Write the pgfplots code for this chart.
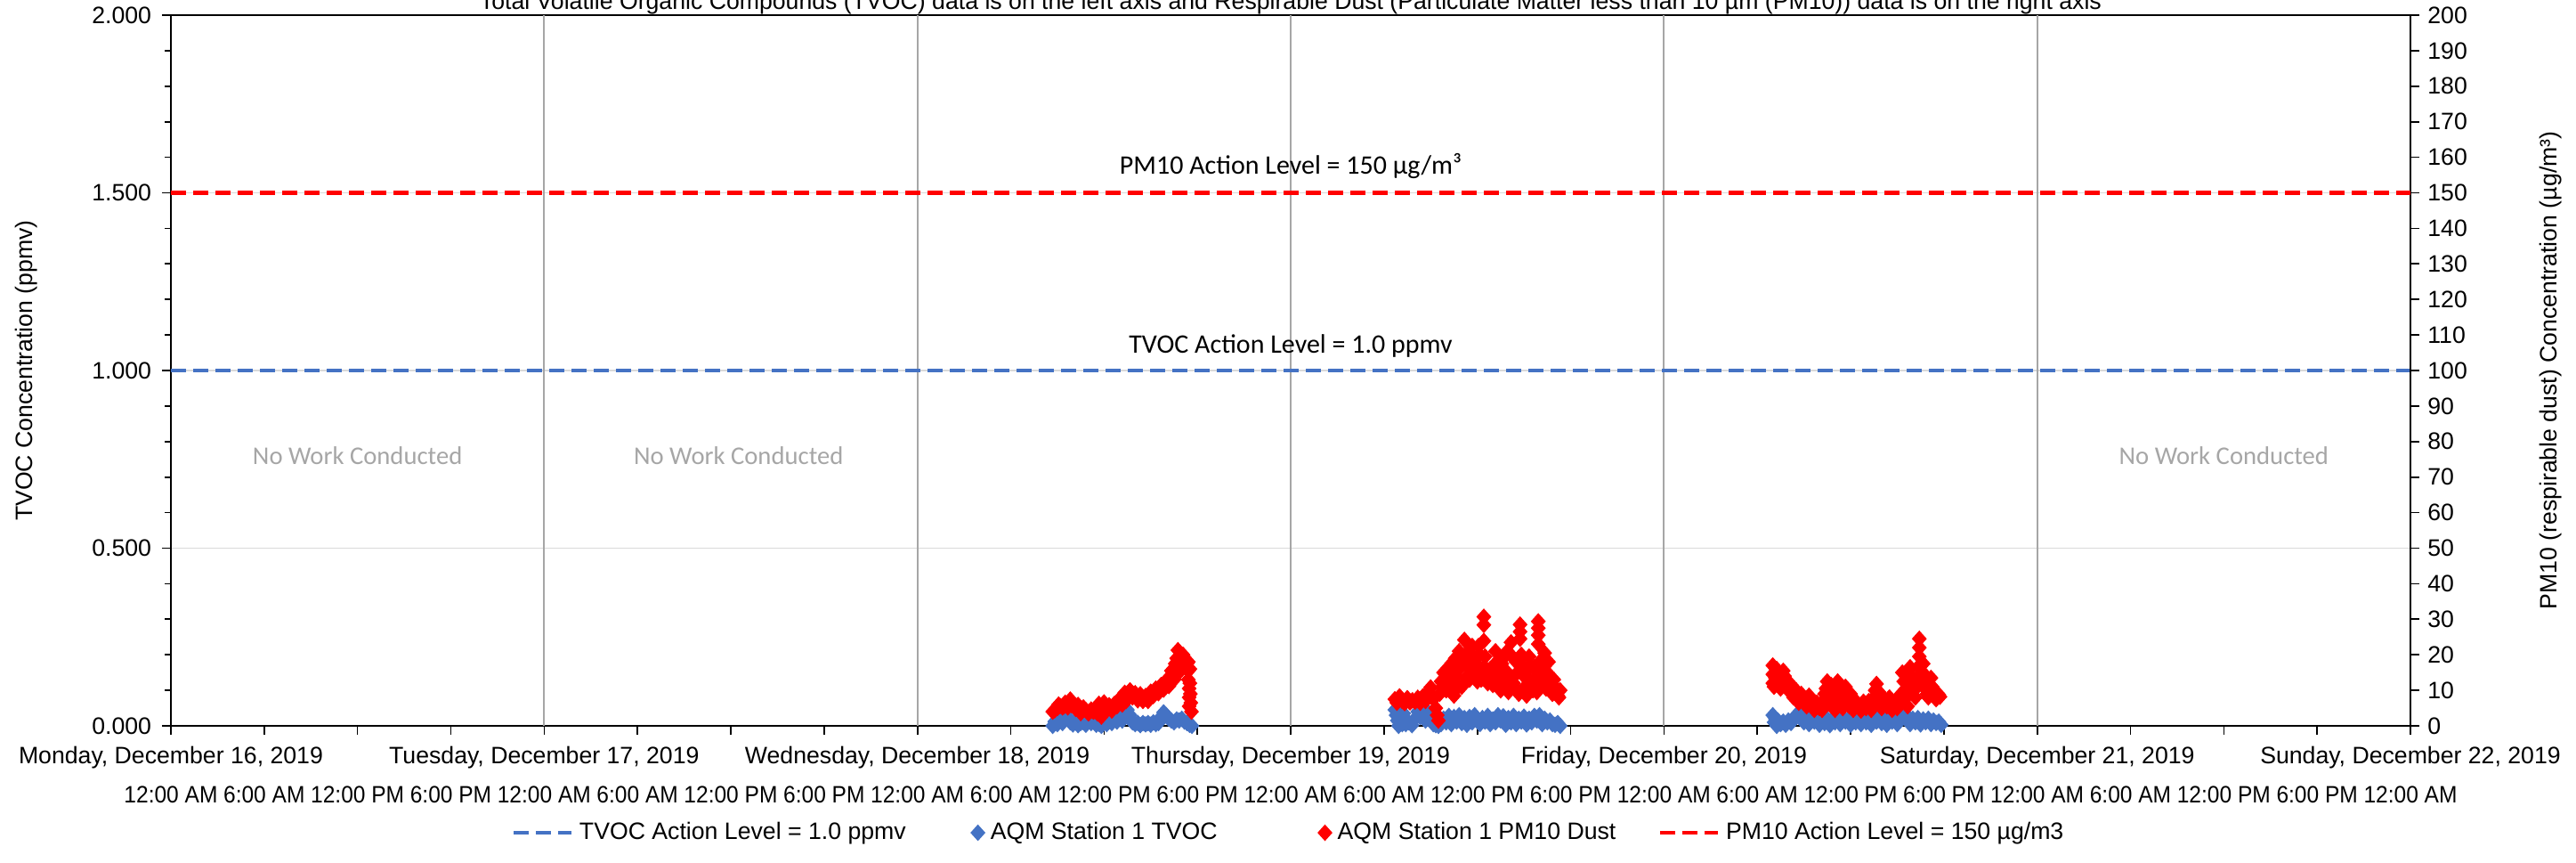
\documentclass[border=0pt]{standalone}
\usepackage{fontspec}
\setmainfont{Liberation Sans}
\newfontfamily\carlito{Carlito}
\newfontfamily\narrowsans[FakeStretch=0.92]{Liberation Sans}
\usepackage{pgfplots}
\usepackage{pgfplotstable}
\pgfplotsset{compat=1.18}
\definecolor{tvoc}{HTML}{4472C4}
\definecolor{pmred}{HTML}{FF0000}
\definecolor{vgrid}{HTML}{A6A6A6}
\definecolor{hgrid}{HTML}{D9D9D9}
\definecolor{nowork}{HTML}{A6A6A6}

\pgfplotstableread{
h v
56.70 0.000
56.83 0.012
57.00 0.005
57.17 0.018
57.33 0.008
57.50 0.022
57.67 0.025
57.83 0.010
58.00 0.004
58.17 0.012
58.33 0.002
58.50 0.008
58.67 0.010
58.83 0.003
59.00 0.015
59.17 0.008
59.33 0.012
59.50 0.003
59.67 0.006
59.83 0.000
60.00 0.010
60.17 0.005
60.33 0.018
60.50 0.008
60.67 0.022
60.83 0.012
61.00 0.025
61.17 0.015
61.33 0.035
61.50 0.045
61.67 0.030
61.83 0.010
62.00 0.005
62.17 0.008
62.33 0.002
62.50 0.008
62.67 0.004
62.83 0.008
63.00 0.003
63.17 0.010
63.33 0.005
63.50 0.008
63.67 0.025
63.83 0.038
64.00 0.030
64.17 0.020
64.33 0.015
64.50 0.010
64.67 0.018
64.83 0.015
65.00 0.020
65.17 0.012
65.33 0.008
65.50 0.003
65.65 0.000
78.70 0.045
78.78 0.030
78.86 0.015
78.94 0.000
79.02 0.040
79.10 0.020
79.18 0.005
79.26 0.035
79.40 0.005
79.60 0.010
79.80 0.002
80.00 0.020
80.17 0.040
80.33 0.025
80.50 0.035
80.67 0.015
80.83 0.040
81.00 0.020
81.17 0.005
81.33 0.002
81.50 0.000
81.67 0.005
81.83 0.020
82.00 0.010
82.17 0.028
82.33 0.005
82.50 0.025
82.67 0.012
82.83 0.030
83.00 0.008
83.17 0.022
83.33 0.003
83.50 0.025
83.67 0.010
83.83 0.030
84.00 0.015
84.17 0.005
84.33 0.022
84.50 0.012
84.67 0.028
84.83 0.005
85.00 0.018
85.17 0.010
85.33 0.030
85.50 0.015
85.67 0.027
85.83 0.003
86.00 0.022
86.17 0.010
86.33 0.028
86.50 0.005
86.67 0.020
86.83 0.012
87.00 0.026
87.17 0.004
87.33 0.020
87.50 0.010
87.67 0.028
87.83 0.015
88.00 0.030
88.17 0.005
88.33 0.020
88.50 0.010
88.67 0.015
88.83 0.005
89.00 0.003
89.17 0.008
89.33 0.000
103.00 0.030
103.08 0.010
103.17 0.020
103.25 0.000
103.33 0.015
103.50 0.005
103.67 0.012
103.83 0.003
104.00 0.015
104.17 0.008
104.33 0.020
104.50 0.030
104.67 0.035
104.83 0.020
105.00 0.010
105.17 0.025
105.33 0.005
105.50 0.020
105.67 0.012
105.83 0.018
106.00 0.003
106.17 0.015
106.33 0.008
106.50 0.020
106.67 0.002
106.83 0.018
107.00 0.010
107.17 0.022
107.33 0.005
107.50 0.020
107.67 0.012
107.83 0.018
108.00 0.003
108.17 0.020
108.33 0.010
108.50 0.022
108.67 0.005
108.83 0.018
109.00 0.010
109.17 0.020
109.33 0.003
109.50 0.022
109.67 0.012
109.83 0.025
110.00 0.008
110.17 0.018
110.33 0.003
110.50 0.022
110.67 0.012
110.83 0.025
111.00 0.005
111.17 0.020
111.33 0.028
111.50 0.035
111.67 0.015
111.83 0.005
112.00 0.020
112.17 0.010
112.33 0.022
112.50 0.004
112.67 0.018
112.83 0.010
113.00 0.020
113.17 0.005
113.33 0.015
113.50 0.008
113.67 0.012
113.83 0.003
}\tvocdata

\pgfplotstableread{
h v
56.70 4.0
56.83 4.4
57.00 5.0
57.08 6.0
57.17 5.6
57.33 5.2
57.42 5.5
57.50 6.5
57.67 5.2
57.75 6.2
57.83 7.4
57.92 5.8
58.00 6.4
58.17 4.8
58.25 5.2
58.33 5.9
58.50 3.6
58.67 5.2
58.83 4.4
58.92 4.0
59.00 3.5
59.17 4.6
59.25 4.2
59.33 4.0
59.50 4.5
59.58 3.5
59.67 6.2
59.83 2.6
59.92 5.0
60.00 6.6
60.17 4.5
60.25 5.0
60.33 5.8
60.50 4.3
60.58 5.2
60.67 6.2
60.83 5.5
60.92 6.5
61.00 7.6
61.17 6.0
61.25 8.5
61.33 9.3
61.42 7.0
61.50 7.6
61.58 9.0
61.67 10.0
61.75 8.8
61.83 8.0
61.92 8.5
62.00 9.2
62.08 8.0
62.17 7.2
62.25 8.2
62.33 8.9
62.42 7.8
62.50 7.0
62.58 7.6
62.67 8.4
62.75 7.8
62.83 7.0
62.92 8.2
63.00 9.6
63.08 9.0
63.17 8.4
63.25 9.5
63.33 10.5
63.42 9.8
63.50 9.2
63.58 10.5
63.67 11.5
63.75 10.8
63.83 10.2
63.92 11.5
64.00 12.8
64.08 12.0
64.17 11.2
64.25 13.5
64.33 15.5
64.42 14.5
64.50 13.0
64.58 17.5
64.67 19.0
64.75 21.3
64.83 19.0
64.92 15.5
65.00 17.0
65.08 20.0
65.17 18.8
65.33 17.5
65.42 18.0
65.42 15.5
65.42 13.0
65.47 10.5
65.47 8.0
65.47 5.5
65.52 16.0
65.52 12.0
65.55 9.0
65.58 6.5
65.62 4.0
78.70 7.5
78.83 6.5
79.00 8.3
79.17 7.0
79.33 6.4
79.50 7.8
79.67 6.6
79.83 7.2
80.00 6.8
80.17 7.9
80.33 6.5
80.50 8.3
80.67 7.0
80.83 9.5
81.00 10.8
81.17 7.5
81.33 5.0
81.42 3.0
81.50 1.5
81.58 9.0
81.67 12.5
81.75 11.0
81.83 15.0
81.92 13.0
82.00 10.0
82.08 16.0
82.17 13.5
82.25 11.5
82.33 17.5
82.42 14.5
82.50 8.5
82.58 19.0
82.67 14.0
82.75 11.0
82.83 21.0
82.92 16.5
83.00 11.0
83.08 19.5
83.17 24.2
83.25 13.5
83.33 17.0
83.42 21.0
83.50 13.0
83.58 16.0
83.67 22.5
83.75 19.5
83.83 18.0
83.92 14.5
84.00 12.5
84.08 22.5
84.17 20.0
84.25 13.0
84.33 16.0
84.42 30.7
84.42 28.4
84.42 23.9
84.50 19.5
84.58 16.0
84.67 12.0
84.75 14.0
84.83 16.0
84.92 13.0
85.00 11.5
85.08 16.0
85.17 21.0
85.25 18.0
85.33 14.0
85.42 12.5
85.50 10.0
85.58 17.5
85.67 19.0
85.75 12.0
85.83 15.5
85.92 21.0
86.00 9.5
86.08 14.0
86.17 23.5
86.25 19.5
86.33 12.0
86.42 10.5
86.50 18.0
86.58 15.0
86.67 9.0
86.75 28.5
86.75 26.5
86.75 24.5
86.83 20.0
86.92 17.0
87.00 14.0
87.08 11.0
87.17 8.5
87.25 15.5
87.33 19.5
87.42 17.0
87.50 12.0
87.58 10.0
87.67 16.5
87.75 13.5
87.83 9.5
87.92 29.4
87.92 27.5
87.92 25.5
87.92 23.0
88.00 18.0
88.08 14.5
88.17 11.5
88.25 16.5
88.33 20.5
88.42 10.5
88.50 15.0
88.58 18.0
88.67 13.0
88.75 11.0
88.83 9.0
88.92 13.0
89.00 11.0
89.08 9.5
89.17 8.5
89.25 8.0
89.33 10.0
103.00 17.0
103.00 14.5
103.00 12.0
103.08 11.0
103.17 13.5
103.25 16.0
103.33 12.0
103.42 13.0
103.50 10.5
103.58 11.5
103.67 15.5
103.75 14.0
103.83 13.0
103.92 11.0
104.00 10.0
104.08 12.0
104.17 11.5
104.25 9.0
104.33 8.0
104.42 9.5
104.50 10.0
104.58 8.0
104.67 6.5
104.75 7.5
104.83 9.0
104.92 8.0
105.00 7.5
105.08 6.5
105.17 5.5
105.25 7.0
105.33 8.5
105.42 7.5
105.50 6.0
105.58 5.0
105.67 4.5
105.75 5.5
105.83 6.5
105.92 5.5
106.00 5.0
106.08 5.5
106.17 4.5
106.25 7.0
106.33 9.0
106.42 10.5
106.50 12.5
106.58 8.5
106.67 6.0
106.75 11.5
106.83 10.5
106.92 7.5
107.00 4.5
107.08 9.5
107.17 12.5
107.25 10.5
107.33 8.5
107.42 6.5
107.50 5.0
107.58 9.0
107.67 11.0
107.75 9.5
107.83 7.0
107.92 5.5
108.00 9.0
108.08 6.5
108.17 4.5
108.25 5.5
108.33 7.0
108.42 6.0
108.50 5.5
108.58 5.0
108.67 4.3
108.75 5.5
108.83 6.8
108.92 6.0
109.00 5.0
109.08 6.0
109.17 7.0
109.25 5.5
109.33 4.5
109.42 6.5
109.50 8.0
109.58 10.0
109.67 11.8
109.75 7.0
109.83 9.5
109.92 7.5
110.00 5.0
110.08 6.0
110.17 7.5
110.25 6.5
110.33 5.5
110.42 7.0
110.50 8.0
110.58 6.0
110.67 4.5
110.75 5.5
110.83 6.5
110.92 5.8
111.00 5.0
111.08 5.5
111.17 6.5
111.25 9.0
111.33 15.0
111.42 12.5
111.50 10.0
111.58 8.0
111.67 5.5
111.75 11.0
111.83 16.5
111.92 14.0
112.00 12.5
112.08 10.0
112.17 8.0
112.25 12.0
112.33 16.5
112.42 24.5
112.42 22.0
112.42 19.5
112.50 14.0
112.58 11.5
112.67 17.5
112.75 14.5
112.83 11.0
112.92 9.0
113.00 8.0
113.08 10.5
113.17 13.5
113.25 11.0
113.33 8.5
113.42 8.0
113.50 7.5
113.58 8.5
113.67 8.8
113.75 8.2
}\pmdata

\begin{document}
\begin{tikzpicture}[font=\fontsize{8}{9.6}\selectfont]
\pgfplotsset{
  base/.style={
    at={(0,0)}, anchor=south west,
    scale only axis, width=754.8pt, height=239.4pt,
    xmin=0, xmax=144, clip=false,
    tick align=outside,
    major tick length=3pt, minor tick length=2pt,
    tick style={black, line width=0.5pt},
    axis line style={black, line width=0.6pt},
    /pgf/number format/assume math mode=true,
    tick label style={font=\fontsize{8}{9.6}\selectfont},
    label style={font=\fontsize{8}{9.6}\selectfont},
  },
  dmark/.style={only marks, mark=diamond*, mark size=2.5pt, mark options={xscale=1.2, solid}},
}
\begin{axis}[base,
  ymin=0, ymax=2,
  ytick={0,0.5,1,1.5,2}, minor y tick num=4,
  ytick pos=left, xtick pos=left,
  yticklabel style={anchor=east, inner sep=0pt, xshift=-3.4pt,
    /pgf/number format/.cd, fixed, fixed zerofill, precision=3},
  ymajorgrids=true, y grid style={hgrid, line width=0.5pt},
  xtick={0,6,...,144},
  xticklabels={12:00 AM,6:00 AM,12:00 PM,6:00 PM,12:00 AM,6:00 AM,12:00 PM,6:00 PM,12:00 AM,6:00 AM,12:00 PM,6:00 PM,12:00 AM,6:00 AM,12:00 PM,6:00 PM,12:00 AM,6:00 AM,12:00 PM,6:00 PM,12:00 AM,6:00 AM,12:00 PM,6:00 PM,12:00 AM},
  xticklabel style={anchor=base, inner sep=0pt, yshift=-22.8pt, font=\narrowsans\fontsize{8}{9.6}\selectfont},
  extra x ticks={24,48,72,96,120},
  extra x tick labels={{},{},{},{},{}},
  extra x tick style={grid=major, major grid style={vgrid, line width=0.6pt}},
  ylabel={TVOC Concentration (ppmv)},
  every axis y label/.style={at={([xshift=-48.6pt]axis description cs:0,0.5)}, rotate=90, anchor=center},
]
\addplot[tvoc, line width=1.3pt, dash pattern=on 5pt off 2.5pt, forget plot] coordinates {(0,1) (144,1)};
\addplot[tvoc, dmark, forget plot] table[x=h, y=v] {\tvocdata};
\node[anchor=base] at ([yshift=2.1pt]axis description cs:0.5,1) {Total Volatile Organic Compounds (TVOC) data is on the left axis and Respirable Dust (Particulate Matter less than 10 µm (PM10)) data is on the right axis};
\node[anchor=base] at ([yshift=-12.6pt]axis cs:0,0) {Monday, December 16, 2019};
\node[anchor=base] at ([yshift=-12.6pt]axis cs:24,0) {Tuesday, December 17, 2019};
\node[anchor=base] at ([yshift=-12.6pt]axis cs:48,0) {Wednesday, December 18, 2019};
\node[anchor=base] at ([yshift=-12.6pt]axis cs:72,0) {Thursday, December 19, 2019};
\node[anchor=base] at ([yshift=-12.6pt]axis cs:96,0) {Friday, December 20, 2019};
\node[anchor=base] at ([yshift=-12.6pt]axis cs:120,0) {Saturday, December 21, 2019};
\node[anchor=base] at ([yshift=-12.6pt]axis cs:144,0) {Sunday, December 22, 2019};
\node[font=\carlito\fontsize{9}{10.8}\selectfont] at (axis cs:72,1.07) {TVOC Action Level = 1.0 ppmv};
\node[font=\carlito\fontsize{9}{10.8}\selectfont] at (axis cs:72,1.575) {PM10 Action Level = 150 µg/m³};
\node[font=\carlito\fontsize{8.6}{10.3}\selectfont, text=nowork] at (axis cs:12,0.76) {No Work Conducted};
\node[font=\carlito\fontsize{8.6}{10.3}\selectfont, text=nowork] at (axis cs:36.5,0.76) {No Work Conducted};
\node[font=\carlito\fontsize{8.6}{10.3}\selectfont, text=nowork] at (axis cs:132,0.76) {No Work Conducted};
\end{axis}
\begin{axis}[base,
  ymin=0, ymax=200, ytick={0,10,...,200},
  axis x line=none, axis y line*=right,
  yticklabel style={anchor=west, inner sep=0pt, xshift=2.6pt},
  ylabel={PM10 (respirable dust) Concentration (µg/m³)},
  every axis y label/.style={at={([xshift=47.4pt]axis description cs:1,0.5)}, rotate=90, anchor=center},
  legend columns=4,
  legend style={at={(0.5,-0.1504)}, anchor=center, draw=none, fill=none,
    font=\fontsize{8}{9.6}\selectfont,
    /tikz/column 2/.style={column sep=20pt},
    /tikz/column 4/.style={column sep=32pt},
    /tikz/column 6/.style={column sep=12.3pt}},
  legend image code/.code={\draw[mark repeat=2,mark phase=2,#1] plot coordinates {(0pt,0pt) (9.75pt,0pt) (19.5pt,0pt)};},
]
\addlegendimage{tvoc, line width=1.3pt, dash pattern=on 5pt off 2.5pt}
\addlegendentry{TVOC Action Level = 1.0 ppmv}
\addlegendimage{tvoc, dmark}
\addlegendentry{AQM Station 1 TVOC}
\addplot[pmred, dmark] table[x=h, y=v] {\pmdata};
\addlegendentry{AQM Station 1 PM10 Dust}
\addplot[pmred, line width=1.3pt, dash pattern=on 5pt off 2.5pt] coordinates {(0,150) (144,150)};
\addlegendentry{PM10 Action Level = 150 µg/m3}
\end{axis}
\pgfresetboundingbox
\path[use as bounding box] (-57.6pt,-45.9pt) rectangle (810.6pt,244.5pt);
\end{tikzpicture}
\end{document}
